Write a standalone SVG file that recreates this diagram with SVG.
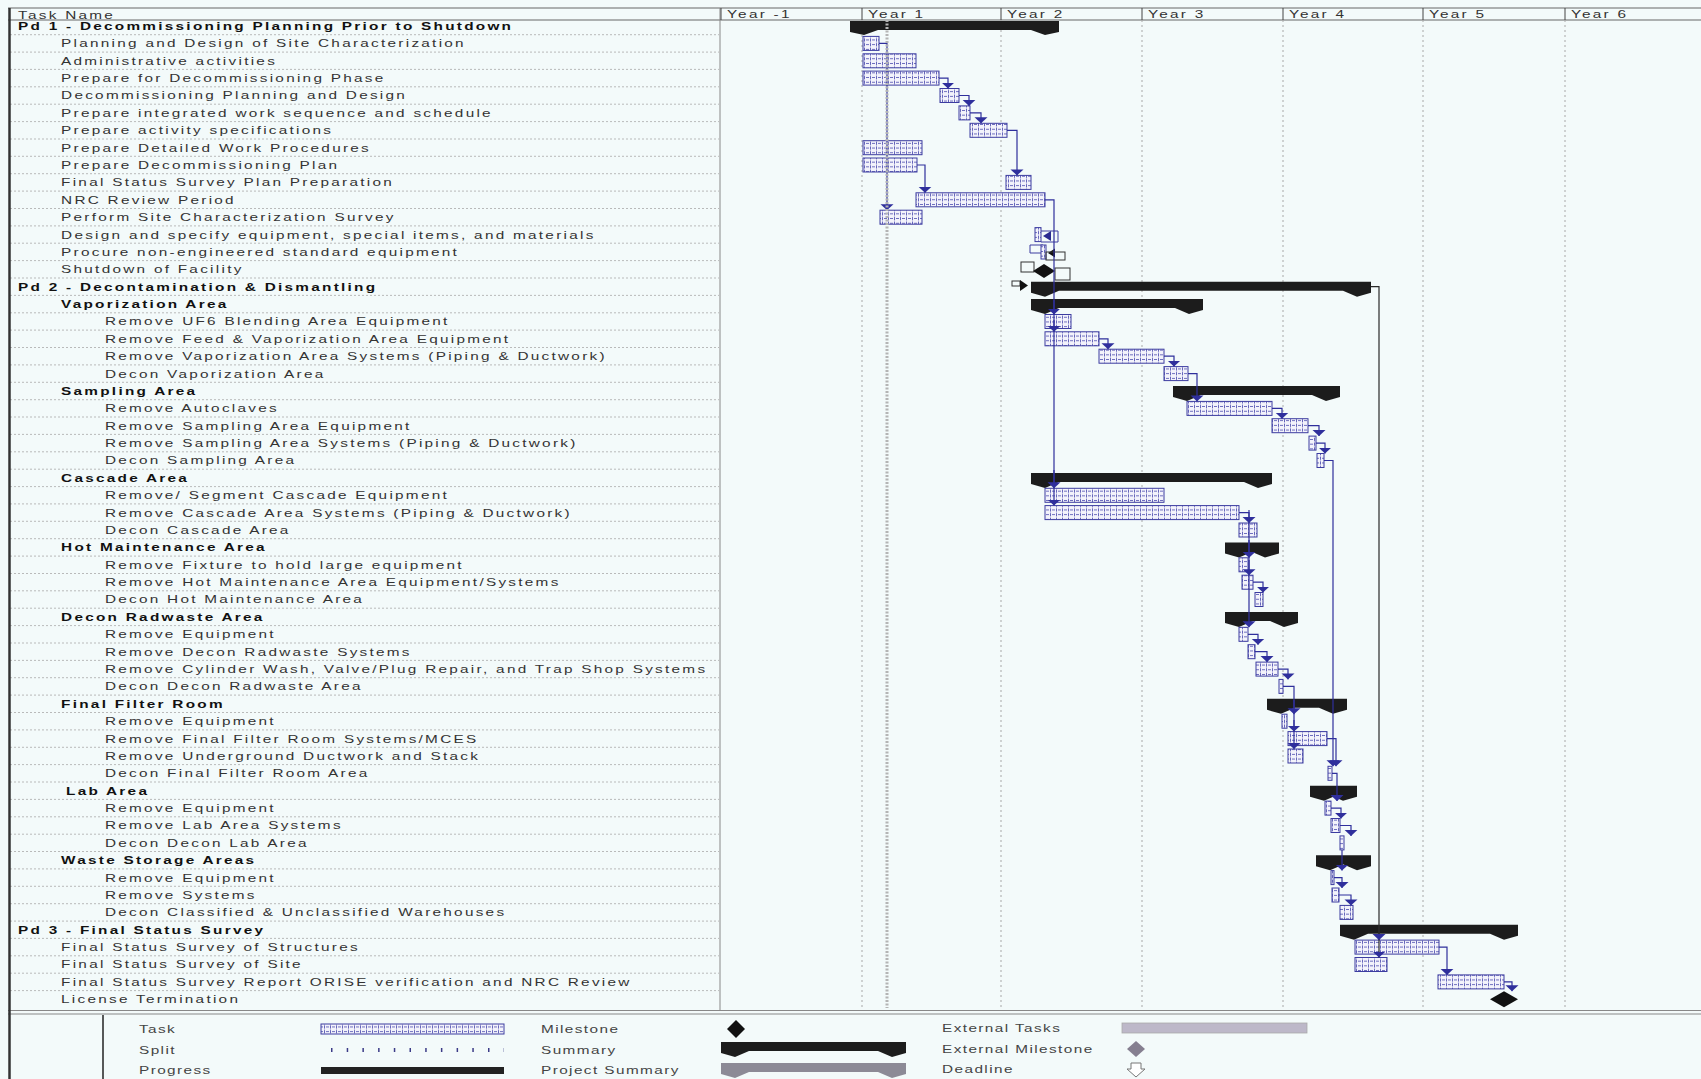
<svg xmlns="http://www.w3.org/2000/svg" width="1701" height="1079" viewBox="0 0 1701 1079">
<defs>
<style>
.t{font-family:"Liberation Sans",Arial,sans-serif;font-size:10.8px;letter-spacing:1.6px;fill:#333}
.b{font-family:"Liberation Sans",Arial,sans-serif;font-size:10.8px;letter-spacing:1.6px;fill:#111;font-weight:bold}
.lg{font-family:"Liberation Sans",Arial,sans-serif;font-size:10.8px;letter-spacing:1px;fill:#444}
.task{fill:url(#tp);stroke:#3c3ca0;stroke-width:1}
.sum{fill:#1c1c1c}
.con{fill:none;stroke:#2f2f9c;stroke-width:1.2;marker-end:url(#ar)}
.con2{fill:none;stroke:#2a2a2a;stroke-width:1.2;marker-end:url(#ar)}
.box{fill:none;stroke:#333;stroke-width:1}
.grid{stroke:#a8a8a8;stroke-width:1;stroke-dasharray:2 3}
</style>
<pattern id="tp" width="6" height="4.7" patternUnits="userSpaceOnUse">
<rect width="6" height="4.7" fill="#f3f3fb"/>
<path d="M0.5 0.6V4.1M2 2.35H5" stroke="#5a5ab4" stroke-width="0.9"/>
</pattern>
<marker id="ar" viewBox="0 -7 6 14" refX="6" refY="0" markerWidth="6" markerHeight="14" markerUnits="userSpaceOnUse" orient="auto">
<path d="M0,-6.5 L6,0 L0,6.5 Z" fill="#2f2f9c"/>
</marker>
<clipPath id="tc"><rect x="0" y="0" width="505.6" height="1079"/></clipPath>
</defs>
<rect width="1701" height="1079" fill="#f3fafa"/>

<g id="frame">
<path d="M8 8H1701M8 20H1701" stroke="#666" stroke-width="1"/>
<path d="M720 8V1010" stroke="#888" stroke-width="1"/>
<path d="M721 8V20M862 8V20M1001 8V20M1142 8V20M1283 8V20M1423 8V20M1565 8V20" stroke="#444" stroke-width="1"/>
<path class="grid" d="M862 20V1008M1001 20V1008M1142 20V1008M1283 20V1008M1423 20V1008M1565 20V1008"/>
<path d="M10 34.7H719M10 52.1H719M10 69.4H719M10 86.8H719M10 104.2H719M10 121.6H719M10 139H719M10 156.3H719M10 173.7H719M10 191.1H719M10 208.5H719M10 225.9H719M10 243.2H719M10 260.6H719M10 278H719M10 295.4H719M10 312.8H719M10 330.1H719M10 347.5H719M10 364.9H719M10 382.3H719M10 399.7H719M10 417H719M10 434.4H719M10 451.8H719M10 469.2H719M10 486.6H719M10 503.9H719M10 521.3H719M10 538.7H719M10 556.1H719M10 573.5H719M10 590.8H719M10 608.2H719M10 625.6H719M10 643H719M10 660.4H719M10 677.7H719M10 695.1H719M10 712.5H719M10 729.9H719M10 747.3H719M10 764.6H719M10 782H719M10 799.4H719M10 816.8H719M10 834.2H719M10 851.5H719M10 868.9H719M10 886.3H719M10 903.7H719M10 921.1H719M10 938.4H719M10 955.8H719M10 973.2H719M10 990.6H719" stroke="#aaa" stroke-width="0.8" stroke-dasharray="2 2"/>
<path d="M8 1010.5H1701M8 1014H1701" stroke="#888" stroke-width="1.2"/>
<path d="M9.5 8V1079" stroke="#333" stroke-width="2.5"/>
<path d="M103 1015V1079" stroke="#222" stroke-width="1.5"/>
</g>

<g id="labels" transform="scale(1.42,1)">
<text class="t" x="12.7" y="19">Task Name</text>
<text class="t" x="512" y="18.5">Year -1</text>
<text class="t" x="611.3" y="18.5">Year 1</text>
<text class="t" x="709.2" y="18.5">Year 2</text>
<text class="t" x="808.5" y="18.5">Year 3</text>
<text class="t" x="907.7" y="18.5">Year 4</text>
<text class="t" x="1006.3" y="18.5">Year 5</text>
<text class="t" x="1106.3" y="18.5">Year 6</text>
<g clip-path="url(#tc)">
<text class="b" x="12.7" y="30">Pd 1 - Decommissioning Planning Prior to Shutdown</text>
<text class="t" x="43" y="47.4">Planning and Design of Site Characterization</text>
<text class="t" x="43" y="64.8">Administrative activities</text>
<text class="t" x="43" y="82.1">Prepare for Decommissioning Phase</text>
<text class="t" x="43" y="99.5">Decommissioning Planning and Design</text>
<text class="t" x="43" y="116.9">Prepare integrated work sequence and schedule</text>
<text class="t" x="43" y="134.3">Prepare activity specifications</text>
<text class="t" x="43" y="151.7">Prepare Detailed Work Procedures</text>
<text class="t" x="43" y="169">Prepare Decommissioning Plan</text>
<text class="t" x="43" y="186.4">Final Status Survey Plan Preparation</text>
<text class="t" x="43" y="203.8">NRC Review Period</text>
<text class="t" x="43" y="221.2">Perform Site Characterization Survey</text>
<text class="t" x="43" y="238.6">Design and specify equipment, special items, and materials</text>
<text class="t" x="43" y="255.9">Procure non-engineered standard equipment</text>
<text class="t" x="43" y="273.3">Shutdown of Facility</text>
<text class="b" x="12.7" y="290.7">Pd 2 - Decontamination &amp; Dismantling</text>
<text class="b" x="43" y="308.1">Vaporization Area</text>
<text class="t" x="73.9" y="325.5">Remove UF6 Blending Area Equipment</text>
<text class="t" x="73.9" y="342.8">Remove Feed &amp; Vaporization Area Equipment</text>
<text class="t" x="73.9" y="360.2">Remove Vaporization Area Systems (Piping &amp; Ductwork)</text>
<text class="t" x="73.9" y="377.6">Decon Vaporization Area</text>
<text class="b" x="43" y="395">Sampling Area</text>
<text class="t" x="73.9" y="412.4">Remove Autoclaves</text>
<text class="t" x="73.9" y="429.7">Remove Sampling Area Equipment</text>
<text class="t" x="73.9" y="447.1">Remove Sampling Area Systems (Piping &amp; Ductwork)</text>
<text class="t" x="73.9" y="464.5">Decon Sampling Area</text>
<text class="b" x="43" y="481.9">Cascade Area</text>
<text class="t" x="73.9" y="499.3">Remove/ Segment Cascade Equipment</text>
<text class="t" x="73.9" y="516.6">Remove Cascade Area Systems (Piping &amp; Ductwork)</text>
<text class="t" x="73.9" y="534">Decon Cascade Area</text>
<text class="b" x="43" y="551.4">Hot Maintenance Area</text>
<text class="t" x="73.9" y="568.8">Remove Fixture to hold large equipment</text>
<text class="t" x="73.9" y="586.2">Remove Hot Maintenance Area Equipment/Systems</text>
<text class="t" x="73.9" y="603.5">Decon Hot Maintenance Area</text>
<text class="b" x="43" y="620.9">Decon Radwaste Area</text>
<text class="t" x="73.9" y="638.3">Remove Equipment</text>
<text class="t" x="73.9" y="655.7">Remove Decon Radwaste Systems</text>
<text class="t" x="73.9" y="673.1">Remove Cylinder Wash, Valve/Plug Repair, and Trap Shop Systems</text>
<text class="t" x="73.9" y="690.4">Decon Decon Radwaste Area</text>
<text class="b" x="43" y="707.8">Final Filter Room</text>
<text class="t" x="73.9" y="725.2">Remove Equipment</text>
<text class="t" x="73.9" y="742.6">Remove Final Filter Room Systems/MCES</text>
<text class="t" x="73.9" y="760">Remove Underground Ductwork and Stack</text>
<text class="t" x="73.9" y="777.3">Decon Final Filter Room Area</text>
<text class="b" x="46.5" y="794.7">Lab Area</text>
<text class="t" x="73.9" y="812.1">Remove Equipment</text>
<text class="t" x="73.9" y="829.5">Remove Lab Area Systems</text>
<text class="t" x="73.9" y="846.9">Decon Decon Lab Area</text>
<text class="b" x="43" y="864.2">Waste Storage Areas</text>
<text class="t" x="73.9" y="881.6">Remove Equipment</text>
<text class="t" x="73.9" y="899">Remove Systems</text>
<text class="t" x="73.9" y="916.4">Decon Classified &amp; Unclassified Warehouses</text>
<text class="b" x="12.7" y="933.8">Pd 3 - Final Status Survey</text>
<text class="t" x="43" y="951.1">Final Status Survey of Structures</text>
<text class="t" x="43" y="968.5">Final Status Survey of Site</text>
<text class="t" x="43" y="985.9">Final Status Survey Report ORISE verification and NRC Review</text>
<text class="t" x="43" y="1003.3">License Termination</text>
</g>
</g>

<g id="summaries">
<path id="s-pd1" class="sum" d="M850 21H1059V30H850ZM850 30V32L864 35L878 30ZM1031 30L1045 35L1059 32V30Z"/>
<path id="s-pd2" class="sum" d="M1031 281.7H1371V290.7H1031ZM1031 290.7V292.7L1045 296.7L1059 290.7ZM1343 290.7L1357 296.7L1371 292.7V290.7Z"/>
<path id="s-vap" class="sum" d="M1031 299.1H1203V308.1H1031ZM1031 308.1V310.1L1045 314.1L1059 308.1ZM1175 308.1L1189 314.1L1203 310.1V308.1Z"/>
<path id="s-samp" class="sum" d="M1173 386H1340V395H1173ZM1173 395V397L1187 401L1201 395ZM1312 395L1326 401L1340 397V395Z"/>
<path id="s-casc" class="sum" d="M1031 472.9H1272V481.9H1031ZM1031 481.9V483.9L1045 487.9L1059 481.9ZM1244 481.9L1258 487.9L1272 483.9V481.9Z"/>
<path id="s-hot" class="sum" d="M1225 542.4H1279V551.4H1225ZM1225 551.4V553.4L1239 557.4L1253 551.4ZM1251 551.4L1265 557.4L1279 553.4V551.4Z"/>
<path id="s-rad" class="sum" d="M1225 611.9H1298V620.9H1225ZM1225 620.9V622.9L1239 626.9L1253 620.9ZM1270 620.9L1284 626.9L1298 622.9V620.9Z"/>
<path id="s-ffr" class="sum" d="M1267 698.8H1347V707.8H1267ZM1267 707.8V709.8L1281 713.8L1295 707.8ZM1319 707.8L1333 713.8L1347 709.8V707.8Z"/>
<path id="s-lab" class="sum" d="M1310 785.7H1357V794.7H1310ZM1310 794.7V796.7L1324 800.7L1338 794.7ZM1329 794.7L1343 800.7L1357 796.7V794.7Z"/>
<path id="s-waste" class="sum" d="M1316 855.2H1371V864.2H1316ZM1316 864.2V866.2L1330 870.2L1344 864.2ZM1343 864.2L1357 870.2L1371 866.2V864.2Z"/>
<path id="s-pd3" class="sum" d="M1340 924.8H1518V933.8H1340ZM1340 933.8V935.8L1354 939.8L1368 933.8ZM1490 933.8L1504 939.8L1518 935.8V933.8Z"/>
</g>

<g id="tasks">
<rect id="r2" class="task" x="863" y="36.4" width="16" height="14"/>
<rect id="r3" class="task" x="863" y="53.8" width="53" height="14"/>
<rect id="r4" class="task" x="863" y="71.1" width="76" height="14"/>
<rect id="r5" class="task" x="940" y="88.5" width="19" height="14"/>
<rect id="r6" class="task" x="959" y="105.9" width="11" height="14"/>
<rect id="r7" class="task" x="970" y="123.3" width="37" height="14"/>
<rect id="r8" class="task" x="863" y="140.7" width="59" height="14"/>
<rect id="r9" class="task" x="863" y="158" width="54" height="14"/>
<rect id="r10" class="task" x="1006" y="175.4" width="25" height="14"/>
<rect id="r11" class="task" x="916" y="192.8" width="129" height="14"/>
<rect id="r12" class="task" x="880" y="210.2" width="42" height="14"/>
<g id="r13">
<rect class="task" x="1035" y="227.6" width="6" height="14"/>
<path d="M1041 231H1058V242H1041" fill="none" stroke="#3c3ca0" stroke-width="1"/>
<path d="M1043 236L1051 231L1051 241Z" fill="#2a2a90"/>
</g>
<g id="r14">
<path d="M1030 245H1043V253H1030Z" fill="none" stroke="#3c3ca0" stroke-width="1"/>
<rect class="task" x="1041" y="245" width="5" height="14"/>
<path d="M1048 253L1055 248.5L1055 257.5Z" fill="#111"/>
<rect class="box" x="1046" y="252" width="19" height="8"/>
</g>
<g id="r15">
<rect class="box" x="1021" y="262" width="13" height="10"/>
<rect class="box" x="1055" y="268" width="15" height="12"/>
<path d="M1044 264L1055 271L1044 278L1033 271Z" fill="#111"/>
</g>
<g id="r16">
<rect class="box" x="1012" y="281" width="8" height="5"/>
<path d="M1020 280L1028 285.5L1020 291Z" fill="#111"/>
</g>
<rect id="r18" class="task" x="1045" y="314.5" width="26" height="14"/>
<rect id="r19" class="task" x="1045" y="331.8" width="54" height="14"/>
<rect id="r20" class="task" x="1099" y="349.2" width="65" height="14"/>
<rect id="r21" class="task" x="1164" y="366.6" width="24" height="14"/>
<rect id="r23" class="task" x="1187" y="401.4" width="85" height="14"/>
<rect id="r24" class="task" x="1272" y="418.7" width="36" height="14"/>
<rect id="r25" class="task" x="1309" y="436.1" width="7" height="14"/>
<rect id="r26" class="task" x="1317" y="453.5" width="7" height="14"/>
<rect id="r28" class="task" x="1045" y="488.3" width="119" height="14"/>
<rect id="r29" class="task" x="1045" y="505.6" width="194" height="14"/>
<rect id="r30" class="task" x="1239" y="523" width="18" height="14"/>
<rect id="r32" class="task" x="1239" y="557.8" width="9" height="14"/>
<rect id="r33" class="task" x="1242" y="575.2" width="11" height="14"/>
<rect id="r34" class="task" x="1255" y="592.5" width="8" height="14"/>
<rect id="r36" class="task" x="1239" y="627.3" width="9" height="14"/>
<rect id="r37" class="task" x="1248" y="644.7" width="7" height="14"/>
<rect id="r38" class="task" x="1256" y="662.1" width="22" height="14"/>
<rect id="r39" class="task" x="1279" y="679.4" width="4" height="14"/>
<rect id="r41" class="task" x="1282" y="714.2" width="5" height="14"/>
<rect id="r42" class="task" x="1288" y="731.6" width="39" height="14"/>
<rect id="r43" class="task" x="1288" y="749" width="15" height="14"/>
<rect id="r44" class="task" x="1328" y="766.3" width="4" height="14"/>
<rect id="r46" class="task" x="1325" y="801.1" width="6" height="14"/>
<rect id="r47" class="task" x="1331" y="818.5" width="9" height="14"/>
<rect id="r48" class="task" x="1340" y="835.9" width="4" height="14"/>
<rect id="r50" class="task" x="1331" y="870.6" width="3" height="14"/>
<rect id="r51" class="task" x="1332" y="888" width="7" height="14"/>
<rect id="r52" class="task" x="1340" y="905.4" width="13" height="14"/>
<rect id="r54" class="task" x="1355" y="940.1" width="84" height="14"/>
<rect id="r55" class="task" x="1355" y="957.5" width="32" height="14"/>
<rect id="r56" class="task" x="1438" y="974.9" width="66" height="14"/>
<path id="r57" d="M1504 991.3L1518 999.3L1504 1007.3L1490 999.3Z" fill="#111"/>
</g>

<g id="connectors">
<path class="con" d="M879 43.4H887V210.2"/>
<path class="con" d="M939 78.1H948V88.5"/>
<path class="con" d="M959 95.5H969V105.9"/>
<path class="con" d="M970 112.9H981V123.3"/>
<path class="con" d="M1007 130.3H1017V175.4"/>
<path class="con" d="M917 165H925V192.8"/>
<path class="con" d="M1045 199.8H1054V505.6"/>
<path class="con" d="M1054 300V314.5"/>
<path class="con" d="M1054 320V331.8"/>
<path class="con" d="M1054 470V488.3"/>
<path class="con" d="M1099 338.8H1108V349.2"/>
<path class="con" d="M1164 356.2H1174V366.6"/>
<path class="con" d="M1188 373.6H1197V401.4"/>
<path class="con" d="M1272 408.4H1282V418.7"/>
<path class="con" d="M1308 425.7H1319V436.1"/>
<path class="con" d="M1316 443.1H1325V453.5"/>
<path class="con" d="M1324 460.5H1333V766.3"/>
<path class="con" d="M1239 512.6H1249V627.3"/>
<path class="con" d="M1249 510V523"/>
<path class="con" d="M1249 540V557.8"/>
<path class="con" d="M1249 560V575.2"/>
<path class="con" d="M1253 582.2H1263V592.5"/>
<path class="con" d="M1248 634.3H1258V644.7"/>
<path class="con" d="M1255 651.7H1267V662.1"/>
<path class="con" d="M1278 669.1H1288V679.4"/>
<path class="con" d="M1283 686.4H1294V749"/>
<path class="con" d="M1294 700V714.2"/>
<path class="con" d="M1294 720V731.6"/>
<path class="con" d="M1327 738.6H1336V766.3"/>
<path class="con" d="M1332 773.3H1337V801.1"/>
<path class="con" d="M1331 808.1H1341V818.5"/>
<path class="con" d="M1340 825.5H1351V835.9"/>
<path class="con" d="M1342 849.9V870.6"/>
<path class="con" d="M1334 877.6H1342V888"/>
<path class="con" d="M1339 895H1351V905.4"/>
<path class="con2" d="M1371 286.7H1379V957.5"/>
<path class="con2" d="M1379 925V940.1"/>
<path class="con" d="M1439 947.1H1447V974.9"/>
<path class="con" d="M1504 981.9H1512V991.3"/>
</g>

<path id="status-line" d="M887 20V1008" stroke="#b4b4b4" stroke-width="3" stroke-dasharray="2 1.5"/>

<g id="legend">
<rect class="task" x="321" y="1024" width="183" height="10"/>
<path d="M331 1050H504" stroke="#3c3c88" stroke-width="4" stroke-dasharray="1.5 14.2"/>
<rect x="321" y="1067" width="183" height="7" fill="#222"/>
<path d="M736 1020L745 1029L736 1038L727 1029Z" fill="#111"/>
<path class="sum" d="M721 1042H906V1051H721ZM721 1051V1053L735 1057L749 1051ZM878 1051L892 1057L906 1053V1051Z"/>
<path d="M721 1063H906V1072H721ZM721 1072V1074L735 1078L749 1072ZM878 1072L892 1078L906 1074V1072Z" fill="#8c8a96"/>
<rect x="1122" y="1023" width="185" height="10" fill="#bdb8c9" stroke="#aaa" stroke-width="0.8"/>
<path d="M1136 1041L1145 1049L1136 1057L1127 1049Z" fill="#857f90"/>
<path d="M1131 1063H1141V1069H1145L1136 1077L1127 1069H1131Z" fill="#fff" stroke="#777" stroke-width="1"/>
<g transform="scale(1.42,1)">
<text class="lg" x="97.9" y="1033">Task</text>
<text class="lg" x="97.9" y="1054">Split</text>
<text class="lg" x="97.9" y="1074">Progress</text>
<text class="lg" x="381" y="1033">Milestone</text>
<text class="lg" x="381" y="1054">Summary</text>
<text class="lg" x="381" y="1074">Project Summary</text>
<text class="lg" x="663.4" y="1032">External Tasks</text>
<text class="lg" x="663.4" y="1053">External Milestone</text>
<text class="lg" x="663.4" y="1073">Deadline</text>
</g>
</g>
</svg>
